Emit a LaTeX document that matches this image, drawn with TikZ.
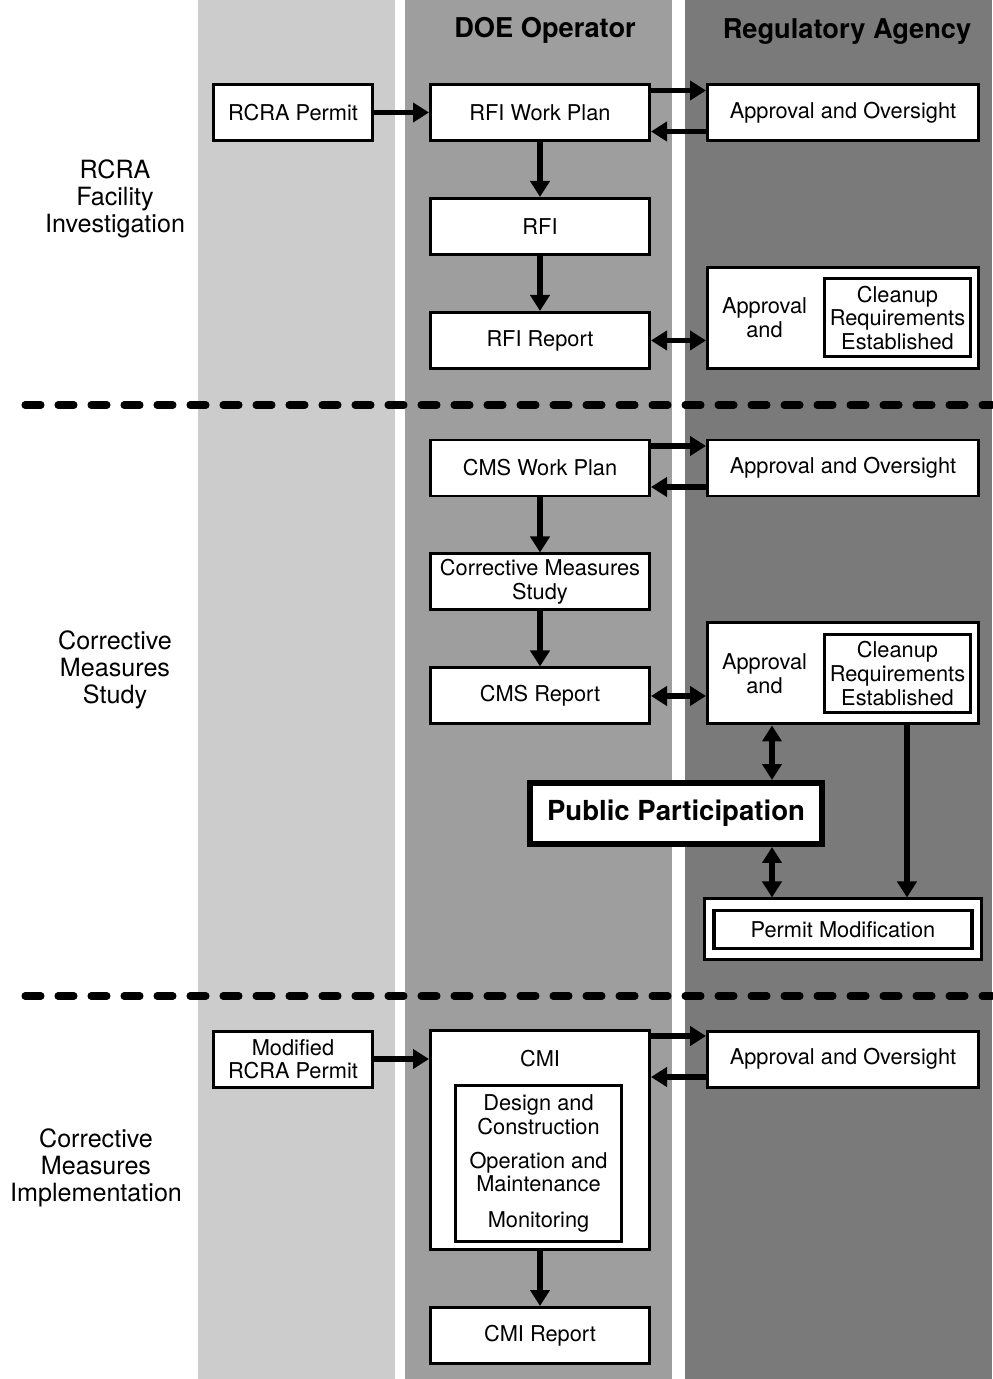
\documentclass[tikz,border=0pt]{standalone}
\usepackage{fontspec}
\setmainfont{TeX Gyre Heros}
\usetikzlibrary{arrows.meta,positioning,calc}

\begin{document}
\begin{tikzpicture}[
    node distance=1.1cm,
    box/.style={rectangle, draw=black, fill=white, line width=1.7pt, minimum width=4.38cm, minimum height=1.12cm, align=center, inner sep=2pt, font=\fontsize{12.4}{13.4}\selectfont},
    permitbox/.style={box, minimum width=3.18cm},
    agencybox/.style={box, minimum width=5.42cm},
    cleanbox/.style={box, minimum width=2.92cm, minimum height=1.56cm},
    phase/.style={align=center, font=\fontsize{14.3}{15.3}\selectfont},
    lane/.style={font=\fontsize{15.5}{17}\selectfont\bfseries},
    arrow/.style={-{Triangle[length=0.32cm, width=0.38cm]}, line width=3.2pt},
    dblarrow/.style={{Triangle[length=0.32cm, width=0.38cm]}-{Triangle[length=0.32cm, width=0.38cm]}, line width=3.2pt},
    phaseline/.style={line width=4pt, line cap=round, dash pattern=on 0.32cm off 0.34cm}
]
    \useasboundingbox (0,0) rectangle (19.84,-27.58);
    \fill[black!20] (3.96,0) rectangle (7.9,-27.58);
    \fill[black!38] (8.1,0) rectangle (13.44,-27.58);
    \fill[black!52] (13.7,0) rectangle (19.84,-27.58);

    \node[lane] (doe) at (10.9,-0.6) {DOE Operator};
    \node[lane] (agency) at (16.94,-0.64) {Regulatory Agency};

    % RCRA facility investigation
    \node[box] (wp1) at (10.8,-2.25) {RFI Work Plan};
    \node[permitbox, left=of wp1] (permit1) {RCRA Permit};
    \node[agencybox, right=of wp1] (ao1) {Approval and Oversight};
    \node[box, below=of wp1] (rfi) {RFI};
    \node[box, below=of rfi] (rfirep) {RFI Report};
    \node[agencybox, right=of rfirep, yshift=0.45cm, minimum height=2.02cm] (ac1) {};
    \node[cleanbox, left=0.16cm of ac1.east] (cl1) {Cleanup\\Requirements\\Established};
    \node[align=center, font=\fontsize{12.4}{13.4}\selectfont] (apr1) at ($(ac1.west)!0.5!(cl1.west)$) {Approval\\and};
    \node[phase] (ph1) at (2.3,-3.98) {RCRA\\Facility\\Investigation};

    \draw[arrow] (permit1) -- (wp1);
    \draw[arrow] ([yshift=0.44cm]wp1.east) -- ([yshift=0.44cm]ao1.west);
    \draw[arrow] ([yshift=-0.38cm]ao1.west) -- ([yshift=-0.38cm]wp1.east);
    \draw[arrow] (wp1) -- (rfi);
    \draw[arrow] (rfi) -- (rfirep);
    \draw[dblarrow] (rfirep.east) -- (rfirep.east -| ac1.west);

    \draw[phaseline] (0.5,-8.1) -- (19.84,-8.1);

    % corrective measures study
    \node[box] (wp2) at (10.8,-9.36) {CMS Work Plan};
    \node[agencybox, right=of wp2] (ao2) {Approval and Oversight};
    \node[box, below=of wp2] (cms) {Corrective Measures\\Study};
    \node[box, below=of cms] (cmsrep) {CMS Report};
    \node[agencybox, right=of cmsrep, yshift=0.45cm, minimum height=2.02cm] (ac2) {};
    \node[cleanbox, left=0.16cm of ac2.east] (cl2) {Cleanup\\Requirements\\Established};
    \node[align=center, font=\fontsize{12.4}{13.4}\selectfont] (apr2) at ($(ac2.west)!0.5!(cl2.west)$) {Approval\\and};
    \node[box, line width=3.4pt, minimum width=5.84cm, minimum height=1.22cm, font=\fontsize{15.7}{17}\selectfont\bfseries] (pp) at (13.52,-16.27) {Public Participation};
    \node[agencybox, below=3.44cm of ac2, minimum width=5.54cm, minimum height=1.22cm] (pm) {};
    \node[box, minimum width=5.16cm, minimum height=0.76cm, line width=2pt] (pmtext) at (pm.center) {Permit Modification};
    \node[phase] (ph2) at (2.3,-13.4) {Corrective\\Measures\\Study};

    \draw[arrow] ([yshift=0.44cm]wp2.east) -- ([yshift=0.44cm]ao2.west);
    \draw[arrow] ([yshift=-0.38cm]ao2.west) -- ([yshift=-0.38cm]wp2.east);
    \draw[arrow] (wp2) -- (cms);
    \draw[arrow] (cms) -- (cmsrep);
    \draw[dblarrow] (cmsrep.east) -- (cmsrep.east -| ac2.west);
    \coordinate (ppx) at ([xshift=-1.42cm]ac2.south);
    \coordinate (pmx) at ([xshift=1.28cm]ac2.south);
    \draw[dblarrow] (ppx) -- (ppx |- pp.north);
    \draw[dblarrow] (ppx |- pp.south) -- (ppx |- pm.north);
    \draw[arrow] (pmx) -- (pmx |- pm.north);

    \draw[phaseline] (0.5,-19.92) -- (19.84,-19.92);

    % corrective measures implementation
    \node[box, minimum height=4.38cm] (cmi) at (10.8,-22.8) {};
    \node[font=\fontsize{12.4}{13.4}\selectfont, below=0.3cm of cmi.north] (cmititle) {CMI};
    \node[box, minimum width=3.32cm, minimum height=3.12cm] (dc) at (10.77,-23.27) {Design and\\Construction\\[6pt]Operation and\\Maintenance\\[7pt]Monitoring};
    \node[permitbox] (mperm) at (5.86,-21.18) {Modified\\RCRA Permit};
    \node[agencybox] (ao3) at (16.86,-21.18) {Approval and Oversight};
    \node[box, below=of cmi] (cmirep) {CMI Report};
    \node[phase] (ph3) at (1.92,-23.36) {Corrective\\Measures\\Implementation};

    \draw[arrow] (mperm.east) -- (mperm.east -| cmi.west);
    \coordinate (up3) at ([yshift=0.46cm]ao3.west);
    \coordinate (dn3) at ([yshift=-0.36cm]ao3.west);
    \draw[arrow] (up3 -| cmi.east) -- (up3);
    \draw[arrow] (dn3) -- (dn3 -| cmi.east);
    \draw[arrow] (cmi) -- (cmirep);
\end{tikzpicture}
\end{document}
